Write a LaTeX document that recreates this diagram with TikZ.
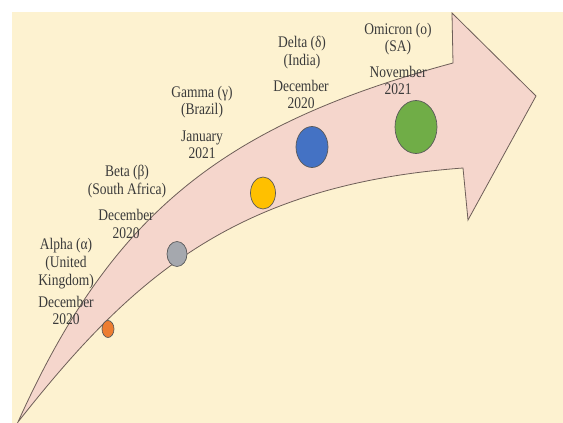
\documentclass[tikz,border=0pt]{standalone}
\usepackage{fontspec}
\usepackage{graphicx}
\setmainfont{Liberation Serif}
\usetikzlibrary{shapes.geometric}
\definecolor{bgcream}{HTML}{FDF2D0}
\definecolor{arrowpink}{HTML}{F5D6CC}
\definecolor{arrowline}{HTML}{6E5F58}
\definecolor{txtgray}{HTML}{3A3A3A}
\definecolor{corange}{HTML}{ED7D31}
\definecolor{cgray}{HTML}{A5A8AE}
\definecolor{cyellow}{HTML}{FFC000}
\definecolor{cblue}{HTML}{4472C4}
\definecolor{cgreen}{HTML}{70AD47}
\newcommand{\lbltext}[1]{\scalebox{1}[1.2]{\begin{tabular}{@{}c@{}}#1\end{tabular}}}
\tikzset{
  lbl/.style={inner sep=0pt, text=txtgray, font=\fontsize{13.5}{14.6}\selectfont},
  dot/.style={ellipse, inner sep=0pt, draw=black!65, line width=0.7pt},
  shaft/.style={fill=arrowpink, draw=arrowline, line width=0.8pt, line join=miter}
}
\begin{document}
\begin{tikzpicture}[x=1pt,y=-1pt]
\useasboundingbox (0,0) rectangle (563,423);
\fill[white] (0,0) rectangle (563,423);
\fill[bgcream] (12,12) rectangle (563,423);
% arrow
\coordinate (tail) at (18,422);
\coordinate (ut) at (453,63);
\coordinate (ht) at (452,13);
\coordinate (tip) at (536,96);
\coordinate (hb) at (468,220);
\coordinate (lt) at (463,168);
\draw[shaft] (tail) .. controls (112,213) and (223,125) .. (ut) -- (ht) -- (tip) -- (hb) -- (lt)
  .. controls (233,185) and (130,280) .. (tail) -- cycle;
% circles
\node[dot, fill=corange, minimum width=12pt, minimum height=17pt] (c1) at (108,329) {};
\node[dot, fill=cgray, minimum width=20pt, minimum height=25pt] (c2) at (177,254) {};
\node[dot, fill=cyellow, minimum width=25pt, minimum height=32pt] (c3) at (263,193) {};
\node[dot, fill=cblue, minimum width=32pt, minimum height=41pt] (c4) at (312,147) {};
\node[dot, fill=cgreen, minimum width=42pt, minimum height=53pt] (c5) at (416,127) {};
% labels
\node[lbl] (n1) at (66,264) {\lbltext{Alpha (α)\\(United\\Kingdom)}};
\node[lbl] (d1) at (66,312.5) {\lbltext{December\\2020}};
\node[lbl] (n2) at (127,182) {\lbltext{Beta (β)\\(South Africa)}};
\node[lbl] (d2) at (126,226) {\lbltext{December\\2020}};
\node[lbl] (n3) at (202,102.5) {\lbltext{Gamma (γ)\\(Brazil)}};
\node[lbl] (d3) at (202,146.5) {\lbltext{January\\2021}};
\node[lbl] (n4) at (302,53) {\lbltext{Delta (δ)\\(India)}};
\node[lbl] (d4) at (301,96.5) {\lbltext{December\\2020}};
\node[lbl] (n5) at (398,39.5) {\lbltext{Omicron (ο)\\(SA)}};
\node[lbl] (d5) at (398,82.5) {\lbltext{November\\2021}};
\end{tikzpicture}
\end{document}
